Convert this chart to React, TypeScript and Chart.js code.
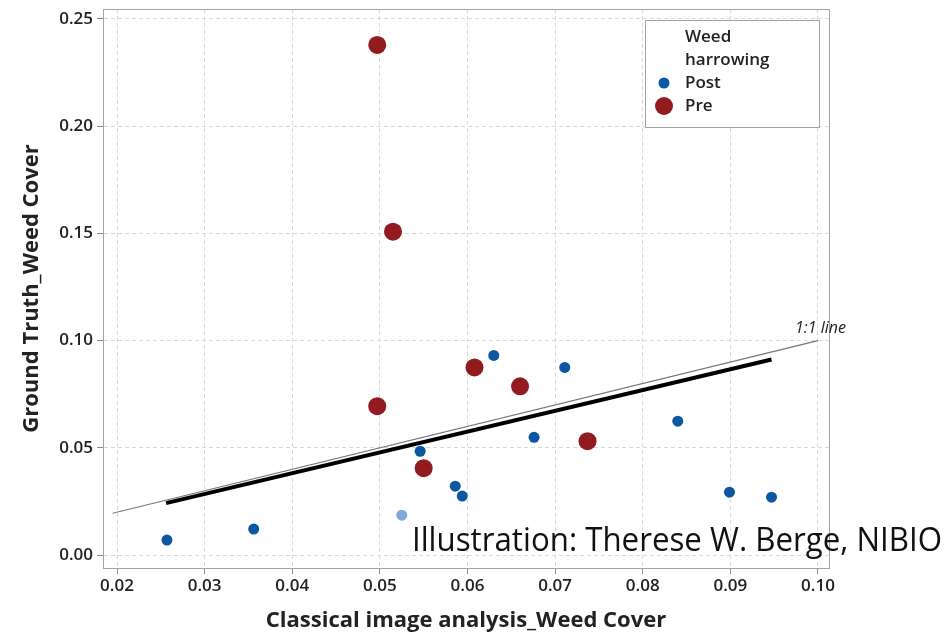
import React, { useEffect, useRef } from "react";
import { Chart, registerables } from "chart.js";

Chart.register(...registerables);

// ---- data ----
const postX = [0.0257, 0.0356, 0.0525, 0.0546, 0.0586, 0.0594, 0.063, 0.0676, 0.0711, 0.084, 0.0899, 0.0947];
const postY = [0.007, 0.0121, 0.0186, 0.0484, 0.0321, 0.0275, 0.0931, 0.0549, 0.0875, 0.0624, 0.0293, 0.027];
const postHighlighted = [false, false, true, false, false, false, false, false, false, false, false, false];

const preX = [0.0497, 0.0515, 0.0497, 0.055, 0.0608, 0.066, 0.0737];
const preY = [0.2379, 0.1508, 0.0694, 0.0405, 0.0875, 0.0787, 0.0531];

const fitX = [0.0256, 0.0947];
const fitY = [0.0242, 0.0912];

const oneToOneX = [0.0195, 0.1];
const oneToOneY = [0.0195, 0.1];

const xTicks = [0.02, 0.03, 0.04, 0.05, 0.06, 0.07, 0.08, 0.09, 0.1];
const yTicks = [0, 0.05, 0.1, 0.15, 0.2, 0.25];

const legendTitle = ["Weed", "harrowing"];
const legendItems = ["Post", "Pre"];
const xTitle = "Classical image analysis_Weed Cover";
const yTitle = "Ground Truth_Weed Cover";
const lineLabel = "1:1 line";
const credit = "Illustration: Therese W. Berge, NIBIO";

const POST_COLOR = "#0b57a4";
const POST_LIGHT = "#7ea9d6";
const PRE_COLOR = "#911b1e";
const FONT = "'Open Sans', 'Noto Sans', sans-serif";

const zip = (xs: number[], ys: number[]) => xs.map((x, i) => ({ x, y: ys[i] }));

const overlayPlugin = {
  id: "overlay",
  afterDraw(chart: any) {
    const ctx = chart.ctx as CanvasRenderingContext2D;
    const { left, top, right, bottom } = chart.chartArea;
    const xs = chart.scales.x;
    const ys = chart.scales.y;
    ctx.save();
    // frame
    ctx.strokeStyle = "#a3a3a3";
    ctx.lineWidth = 1;
    ctx.setLineDash([]);
    ctx.strokeRect(Math.round(left) + 0.5, Math.round(top) + 0.5, Math.round(right - left), Math.round(bottom - top));

    // 1:1 label
    ctx.fillStyle = "#222";
    ctx.font = `italic 16px ${FONT}`;
    ctx.textAlign = "left";
    ctx.textBaseline = "alphabetic";
    ctx.fillText(lineLabel, xs.getPixelForValue(0.1) - 23, ys.getPixelForValue(0.1) - 8);

    // legend
    const lx = 645, ly = 20, lw = 174, lh = 107;
    ctx.fillStyle = "#ffffff";
    ctx.fillRect(lx, ly, lw, lh);
    ctx.strokeStyle = "#a3a3a3";
    ctx.strokeRect(lx + 0.5, ly + 0.5, lw, lh);
    ctx.fillStyle = "#222";
    ctx.font = `600 17px ${FONT}`;
    ctx.textBaseline = "middle";
    ctx.fillText(legendTitle[0], 685, 37);
    ctx.fillText(legendTitle[1], 685, 60);
    ctx.fillText(legendItems[0], 685, 83);
    ctx.fillText(legendItems[1], 685, 106);
    ctx.fillStyle = POST_COLOR;
    ctx.beginPath();
    ctx.arc(664, 83, 5.5, 0, Math.PI * 2);
    ctx.fill();
    ctx.fillStyle = PRE_COLOR;
    ctx.beginPath();
    ctx.arc(664, 106, 9, 0, Math.PI * 2);
    ctx.fill();

    // credit
    ctx.fillStyle = "#111";
    ctx.font = `400 33px ${FONT}`;
    ctx.textBaseline = "alphabetic";
    ctx.fillText(credit, 412, 551, 530);
    ctx.restore();
  },
};

export default function App() {
  const ref = useRef<HTMLCanvasElement | null>(null);

  useEffect(() => {
    if (!ref.current) return;
    const tickFont = { family: FONT, size: 17, weight: "600" as any };
    const titleFont = { family: FONT, size: 22, weight: "bold" as any };
    const chart = new Chart(ref.current, {
      type: "scatter",
      data: {
        datasets: [
          {
            label: "Post",
            data: zip(postX, postY),
            backgroundColor: postHighlighted.map((h) => (h ? POST_LIGHT : POST_COLOR)),
            borderWidth: 0,
            pointRadius: 5.5,
            order: 1,
          },
          {
            label: "Pre",
            data: zip(preX, preY),
            backgroundColor: PRE_COLOR,
            borderWidth: 0,
            pointRadius: 9,
            order: 2,
          },
          {
            label: "fit",
            data: zip(fitX, fitY),
            showLine: true,
            borderColor: "#000",
            borderWidth: 4,
            pointRadius: 0,
            order: 3,
          } as any,
          {
            label: "1:1",
            data: zip(oneToOneX, oneToOneY),
            showLine: true,
            borderColor: "#777",
            borderWidth: 1.2,
            pointRadius: 0,
            order: 4,
          } as any,
        ],
      },
      options: {
        responsive: false,
        animation: false,
        layout: { padding: { left: 0, top: 8, right: 120, bottom: 0 } },
        plugins: { legend: { display: false }, tooltip: { enabled: false } },
        scales: {
          x: {
            type: "linear",
            min: 0.0184,
            max: 0.10126,
            afterBuildTicks: (s: any) => {
              s.ticks = xTicks.map((v) => ({ value: v }));
            },
            afterFit: (s: any) => {
              s.height = 66;
              s.paddingLeft = 0;
              s.paddingRight = 0;
            },
            ticks: {
              callback: (v: any) => Number(v).toFixed(2),
              font: tickFont,
              color: "#222",
              padding: 2,
              maxRotation: 0,
            },
            grid: {
              color: "#d9d9d9",
              tickColor: "#8a8a8a",
              tickLength: 6,
              tickBorderDash: [],
            } as any,
            border: { display: true, color: "#a3a3a3", width: 1, dash: [4, 3] },
            title: { display: true, text: xTitle, font: titleFont, color: "#222", padding: { top: 2, bottom: 0 } },
          },
          y: {
            type: "linear",
            min: -0.00605,
            max: 0.25466,
            afterBuildTicks: (s: any) => {
              s.ticks = yTicks.map((v) => ({ value: v }));
            },
            afterFit: (s: any) => {
              s.width = 103;
              s.paddingTop = 0;
              s.paddingBottom = 0;
            },
            ticks: {
              callback: (v: any) => Number(v).toFixed(2),
              font: tickFont,
              color: "#222",
              padding: 4,
            },
            grid: {
              color: "#d9d9d9",
              tickColor: "#8a8a8a",
              tickLength: 6,
              tickBorderDash: [],
            } as any,
            border: { display: true, color: "#a3a3a3", width: 1, dash: [4, 3] },
            title: { display: true, text: yTitle, font: titleFont, color: "#222", padding: { top: 19, bottom: 0 } },
          },
        },
      },
      plugins: [overlayPlugin],
    });
    return () => chart.destroy();
  }, []);

  return (
    <div style={{ position: "absolute", left: 0, top: 0, width: 949, height: 634, background: "#fff" }}>
      <canvas ref={ref} width={949} height={634} style={{ width: 949, height: 634 }} />
    </div>
  );
}
